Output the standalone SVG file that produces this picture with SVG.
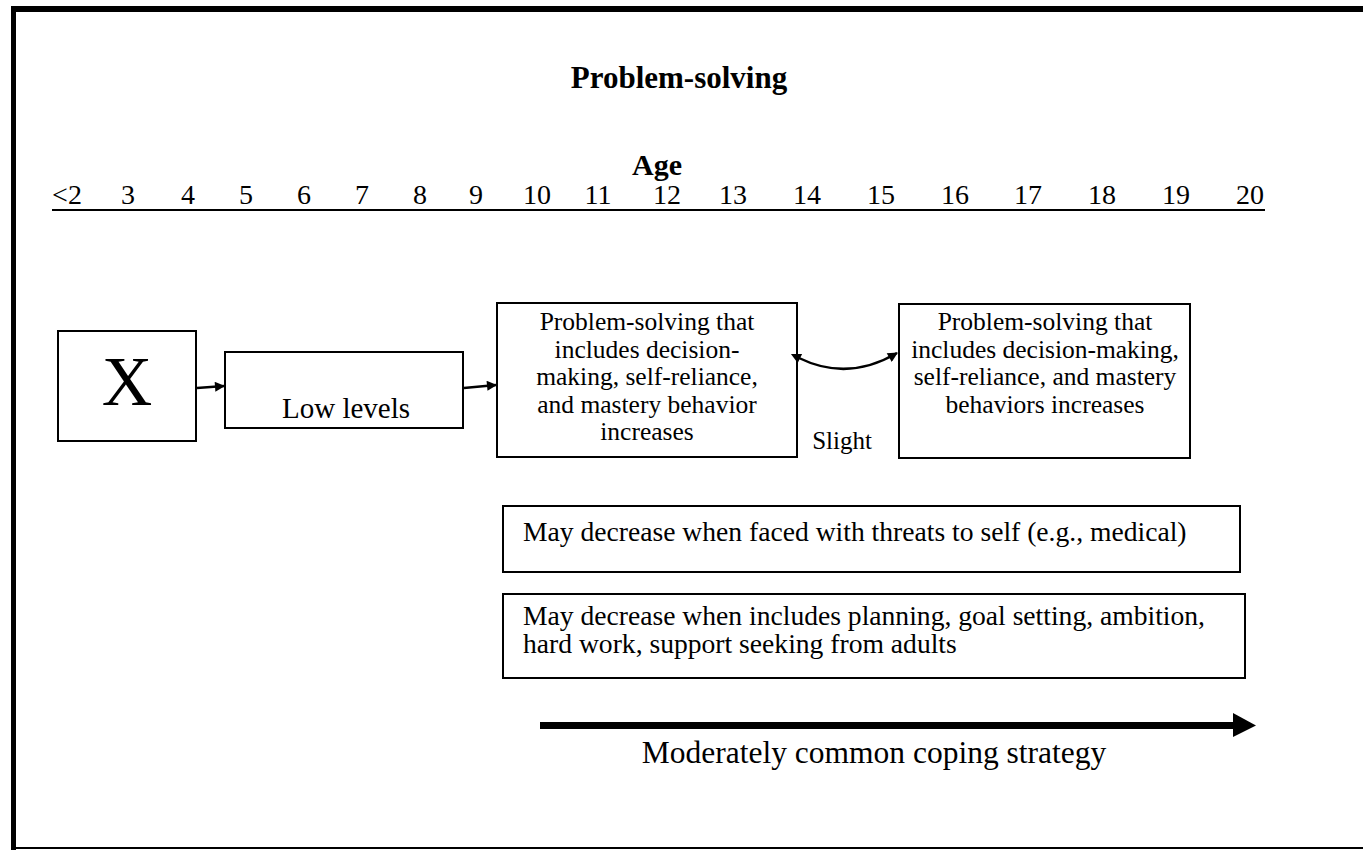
<svg xmlns="http://www.w3.org/2000/svg" width="1363" height="850" viewBox="0 0 1363 850" font-family="'Liberation Serif', 'DejaVu Serif', 'Times New Roman', serif">
<style>
text{font-family:'Liberation Serif','DejaVu Serif','Times New Roman',serif;fill:#000}
.box{fill:#fff;stroke:#000;stroke-width:2}
.t{font-size:25.5px;text-anchor:middle}
.n{font-size:28px;text-anchor:middle}
.m{font-size:27.6px}
.conn{fill:none;stroke:#000;stroke-width:2.5}
</style>
<defs>
<marker id="ah" viewBox="0 0 10 10" refX="9" refY="5" markerWidth="13" markerHeight="10" markerUnits="userSpaceOnUse" orient="auto">
<path d="M0,0 L10,5 L0,10 z" fill="#000"/>
</marker>
<marker id="ahs" viewBox="0 0 10 10" refX="1" refY="5" markerWidth="13" markerHeight="10" markerUnits="userSpaceOnUse" orient="auto-start-reverse">
<path d="M0,0 L10,5 L0,10 z" fill="#000"/>
</marker>
</defs>
<rect width="1363" height="850" fill="#fff"/>
<line x1="11" y1="9" x2="1363" y2="9" stroke="#000" stroke-width="6"/>
<line x1="13.5" y1="6" x2="13.5" y2="850" stroke="#000" stroke-width="5"/>
<line x1="11" y1="848" x2="1363" y2="848" stroke="#000" stroke-width="2"/>

<text x="679" y="88" font-size="31" font-weight="bold" text-anchor="middle">Problem-solving</text>
<g id="axis">
<text x="657" y="175" font-size="30" font-weight="bold" text-anchor="middle">Age</text>
<text class="n" y="204"><tspan x="67">&lt;2</tspan><tspan x="128">3</tspan><tspan x="188">4</tspan><tspan x="246">5</tspan><tspan x="304">6</tspan><tspan x="362">7</tspan><tspan x="420">8</tspan><tspan x="476">9</tspan><tspan x="537">10</tspan><tspan x="598">11</tspan><tspan x="667">12</tspan><tspan x="733">13</tspan><tspan x="807">14</tspan><tspan x="881">15</tspan><tspan x="955">16</tspan><tspan x="1028">17</tspan><tspan x="1102">18</tspan><tspan x="1176">19</tspan><tspan x="1250">20</tspan></text>
<line x1="52" y1="210" x2="1265" y2="210" stroke="#000" stroke-width="2"/>
</g>

<g id="nodeX">
<rect class="box" x="58" y="331" width="138" height="110"/>
<text x="127" y="405" font-size="70" text-anchor="middle">X</text>
</g>
<g id="nodeLow">
<rect class="box" x="225" y="352" width="238" height="76"/>
<text x="346" y="418" font-size="29" text-anchor="middle">Low levels</text>
</g>
<g id="nodeMid">
<rect class="box" x="497" y="303" width="300" height="154"/>
<text class="t"><tspan x="647" y="330">Problem-solving that</tspan><tspan x="647" y="357.5">includes decision-</tspan><tspan x="647" y="385">making, self-reliance,</tspan><tspan x="647" y="412.5">and mastery behavior</tspan><tspan x="647" y="440">increases</tspan></text>
</g>
<g id="nodeRight">
<rect class="box" x="899" y="304" width="291" height="154"/>
<text class="t"><tspan x="1045" y="330">Problem-solving that</tspan><tspan x="1045" y="357.5">includes decision-making,</tspan><tspan x="1045" y="385">self-reliance, and mastery</tspan><tspan x="1045" y="412.5">behaviors increases</tspan></text>
</g>
<g id="nodeThreat">
<rect class="box" x="503" y="506" width="737" height="66"/>
<text class="m" x="523" y="541">May decrease when faced with threats to self (e.g., medical)</text>
</g>
<g id="nodePlan">
<rect class="box" x="503" y="594" width="742" height="84"/>
<text class="m"><tspan x="523" y="624.5">May decrease when includes planning, goal setting, ambition,</tspan><tspan x="523" y="652.5">hard work, support seeking from adults</tspan></text>
</g>
<text x="842" y="449" font-size="25" text-anchor="middle">Slight</text>

<g id="connectors">
<line class="conn" x1="197" y1="388" x2="224" y2="386" marker-end="url(#ah)"/>
<line class="conn" x1="464" y1="388" x2="496" y2="385" marker-end="url(#ah)"/>
<path class="conn" d="M799,358 Q848,382 897,353" marker-start="url(#ahs)" marker-end="url(#ah)"/>
<line x1="540" y1="725.5" x2="1234" y2="725.5" stroke="#000" stroke-width="7"/>
<polygon points="1233,713 1256,725.5 1233,737" fill="#000"/>
</g>
<text x="874" y="763" font-size="31.5" text-anchor="middle">Moderately common coping strategy</text>
</svg>
